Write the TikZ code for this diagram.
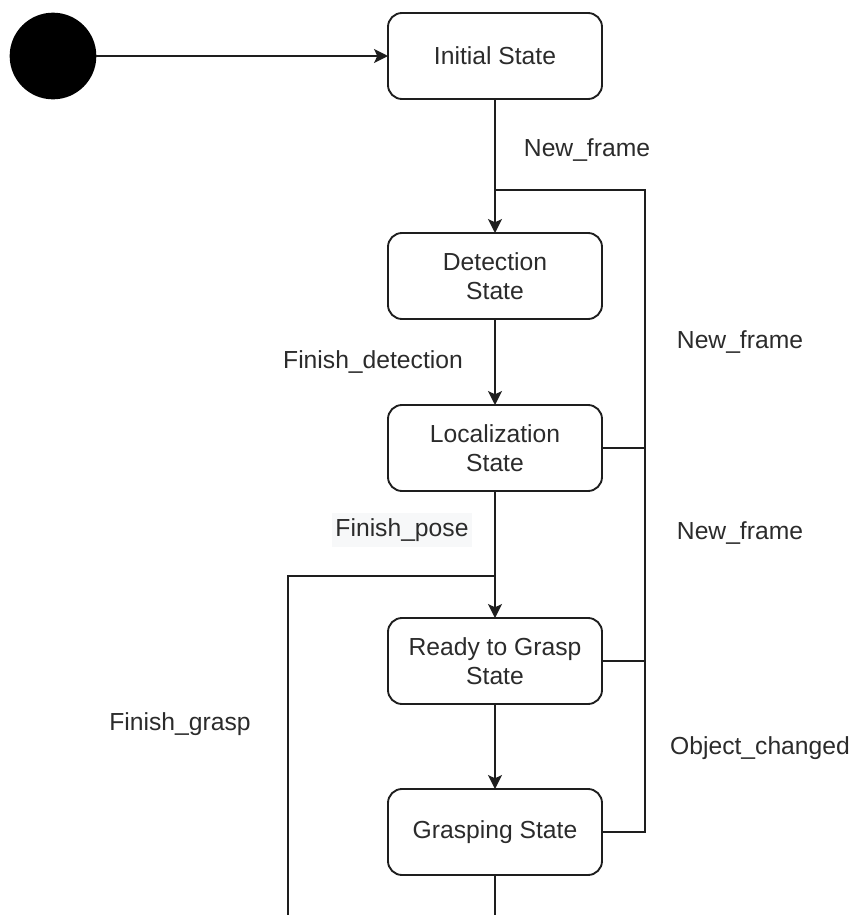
\documentclass[tikz,border=0pt]{standalone}
\usepackage{fontspec}
\setmainfont{Liberation Sans}
\usetikzlibrary{arrows.meta}
\definecolor{ink}{HTML}{1E1E1E}
\definecolor{txt}{HTML}{2B2B2B}
\definecolor{labelbg}{HTML}{F7F8F9}
\begin{document}
\begin{tikzpicture}[x=0.75pt,y=-0.75pt,
  state/.style={draw=ink, line width=1.4pt, rounded corners=10.5pt,
    minimum width=160.5pt, minimum height=64.5pt, inner sep=0pt, outer sep=0pt,
    align=center, text=txt, font=\fontsize{18.5}{21.75}\selectfont},
  lbl/.style={text=txt, inner sep=1pt, font=\fontsize{18.5}{21.75}\selectfont},
  wire/.style={draw=ink, line width=1.4pt},
  arr/.style={wire, -{Stealth[length=10.5pt, width=10.5pt, inset=2.5pt]}},
  initdot/.style={circle, fill=black, minimum size=65pt, inner sep=0pt, outer sep=0pt}]
  \useasboundingbox (0,0) rectangle (859,915);

  % states
  \node[initdot] (start) at (53,56) {};
  \node[state] (init)  at (495,56)  {Initial State};
  \node[state] (det)   at (495,276) {Detection\\State};
  \node[state] (loc)   at (495,448) {Localization\\State};
  \node[state] (ready) at (495,661) {Ready to Grasp\\State};
  \node[state] (grasp) at (495,832) {Grasping State};

  % junction points of the return paths
  \coordinate (jtop)   at (495,190);
  \coordinate (bustop) at (645,190);
  \coordinate (busloc) at (645,448);
  \coordinate (busrdy) at (645,661);
  \coordinate (jpose)  at (495,576);
  \coordinate (lefttop) at (288,576);
  \coordinate (leftbot) at (288,915);
  \coordinate (graspout) at (495,915);

  % main flow
  \draw[arr] (start) -- (init);
  \draw[arr] (init) -- (det);
  \draw[arr] (det) -- (loc);
  \draw[arr] (loc) -- (ready);
  \draw[arr] (ready) -- (grasp);

  % right-hand bus back to detection
  \draw[wire] (grasp.east) -| (bustop) -- (jtop);
  \draw[wire] (loc.east) -- (busloc);
  \draw[wire] (ready.east) -- (busrdy);

  % left-hand path back to ready
  \draw[wire] (grasp.south) -- (graspout);
  \draw[wire] (leftbot) -- (lefttop) -- (jpose);

  % transition labels
  \node[lbl] (l1) at (587,150) {New\_frame};
  \node[lbl] (l2) at (740,342) {New\_frame};
  \node[lbl] (l3) at (740,533) {New\_frame};
  \node[lbl] (l4) at (373,362) {Finish\_detection};
  \node[lbl, fill=labelbg, minimum width=105pt, minimum height=25pt] (l5) at (402,530) {Finish\_pose};
  \node[lbl] (l6) at (180,724) {Finish\_grasp};
  \node[lbl] (l7) at (760,748) {Object\_changed};
\end{tikzpicture}
\end{document}
